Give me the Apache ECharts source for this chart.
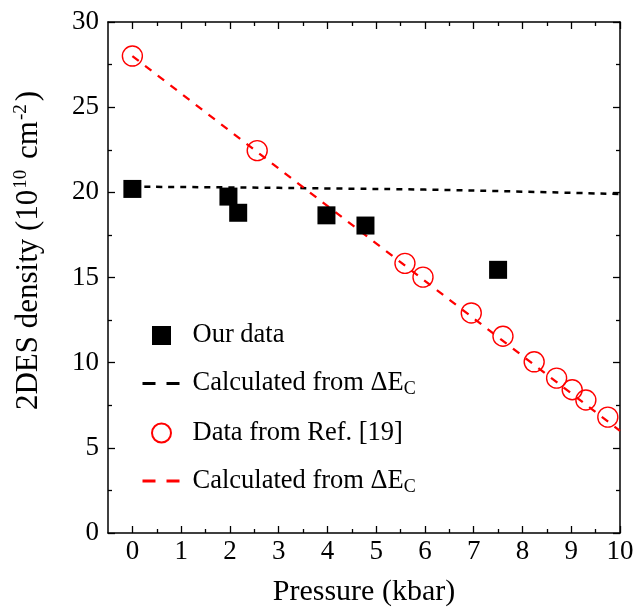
<!DOCTYPE html>
<html><head><meta charset="utf-8">
<script src="https://cdn.jsdelivr.net/npm/echarts@6/dist/echarts.min.js"></script>
<style>html,body{margin:0;padding:0;background:#fff}#c{width:637px;height:612px}</style>
</head><body><div id="c"></div>
<script>
// ---- data ----
const ourX = [0, 1.97, 2.17, 3.98, 4.78, 7.5];
const ourY = [20.2, 19.75, 18.8, 18.65, 18.05, 15.45];
const calcBlackX = [0, 2, 4, 6, 8, 10];
const calcBlackY = [20.33, 20.29, 20.23, 20.16, 20.04, 19.9];
const refX = [0, 2.56, 5.59, 5.96, 6.95, 7.60, 8.24, 8.70, 9.02, 9.30, 9.75];
const refY = [28.0, 22.45, 15.83, 15.02, 12.92, 11.55, 10.05, 9.09, 8.41, 7.81, 6.80];
const calcRedX = [0, 10];
const calcRedY = [28, 6];
const xMajorTicks = [0, 1, 2, 3, 4, 5, 6, 7, 8, 9, 10];
const xMinorTicks = [0.5, 1.5, 2.5, 3.5, 4.5, 5.5, 6.5, 7.5, 8.5, 9.5];
const seriesNames = ['Our data', 'calcBlack', 'Data from Ref. [19]', 'calcRed'];

const pairs = (xs, ys) => xs.map((x, i) => [x, ys[i]]);
const FONT = 'Liberation Serif';
const labelRich = { v: { fontSize: 27, fontFamily: FONT, color: '#000' } };

const xBase = (pos, labels, ticks, len, showLine) => ({
  type: 'value', position: pos, min: -0.5, max: 10,
  axisLine: { show: showLine, onZero: false, lineStyle: { color: '#000', width: 1.5 } },
  axisTick: { show: true, inside: true, length: len, customValues: ticks, lineStyle: { color: '#000', width: 1.3 } },
  axisLabel: labels ? { show: true, customValues: xMajorTicks, fontSize: 27, fontFamily: FONT, color: '#000', margin: 5,
    formatter: v => '{v|' + v + '}', rich: labelRich } : { show: false },
  splitLine: { show: false }
});
const yBase = (pos, labels) => ({
  type: 'value', position: pos, min: 0, max: 30, interval: 5,
  axisLine: { show: true, onZero: false, lineStyle: { color: '#000', width: 1.5 } },
  axisTick: { show: true, inside: true, length: 7, lineStyle: { color: '#000', width: 1.3 } },
  minorTick: { show: true, splitNumber: 2, length: 4, lineStyle: { color: '#000', width: 1.3 } },
  axisLabel: labels ? { show: true, fontSize: 27, fontFamily: FONT, color: '#000', margin: 9,
    formatter: v => '{v|' + v + '}', rich: labelRich } : { show: false },
  splitLine: { show: false }
});

const xAxes = [
  Object.assign(xBase('bottom', true, xMajorTicks, 7, true), {
    name: 'Pressure (kbar)', nameLocation: 'middle', nameGap: 44,
    nameTextStyle: { fontSize: 30, fontFamily: FONT, color: '#000' }
  }),
  xBase('bottom', false, xMinorTicks, 4, false),
  xBase('top', false, xMajorTicks, 7, true),
  xBase('top', false, xMinorTicks, 4, false)
];
const yAxes = [
  Object.assign(yBase('left', true), {
    name: '{t|2DES density (10}{p|10}{t| cm}{p|-2}{t|)}', nameLocation: 'middle', nameGap: 62,
    nameTextStyle: {
      fontFamily: FONT, color: '#000', padding: [0, 0, 0, 54],
      rich: {
        t: { fontSize: 31, fontFamily: FONT, color: '#000', lineHeight: 34 },
        p: { fontSize: 19, fontFamily: FONT, color: '#000', lineHeight: 15, verticalAlign: 'top', padding: [0, 3, 0, 1] }
      }
    }
  }),
  yBase('right', false)
];

const legendText = {
  'Our data': '{t|Our data}',
  'calcBlack': '{t|Calculated from ΔE}{s|C}',
  'Data from Ref. [19]': '{t|Data from Ref. [19]}',
  'calcRed': '{t|Calculated from ΔE}{s|C}'
};
const hidden = { color: 'rgba(0,0,0,0)', borderWidth: 0, opacity: 0 };

const option = {
  animation: false,
  backgroundColor: '#fff',
  textStyle: { fontFamily: FONT, color: '#000' },
  grid: { left: 108, right: 17, top: 22, bottom: 79, containLabel: false },
  xAxis: xAxes,
  yAxis: yAxes,
  legend: {
    orient: 'vertical', left: 141, top: 322, padding: 0,
    itemWidth: 38, itemHeight: 19, itemGap: 21,
    data: [
      { name: seriesNames[0], icon: 'path://M0,0H10V10H0Z' },
      { name: seriesNames[1], itemStyle: hidden, lineStyle: { type: [13, 11], width: 3, color: '#000' } },
      { name: seriesNames[2] },
      { name: seriesNames[3], itemStyle: hidden, lineStyle: { type: [13, 11], width: 3, color: '#ff0000' } }
    ],
    formatter: n => legendText[n],
    textStyle: {
      fontFamily: FONT, color: '#000', padding: [0, 0, 0, 7],
      rich: {
        t: { fontSize: 26.5, fontFamily: FONT, color: '#000', lineHeight: 30 },
        s: { fontSize: 18, fontFamily: FONT, color: '#000', lineHeight: 14, verticalAlign: 'bottom' }
      }
    }
  },
  series: [
    {
      name: seriesNames[0], type: 'scatter', xAxisIndex: 0, yAxisIndex: 0,
      data: pairs(ourX, ourY), symbol: 'rect', symbolSize: 18, z: 3,
      itemStyle: { color: '#000', opacity: 1 }
    },
    {
      name: seriesNames[1], type: 'line', xAxisIndex: 0, yAxisIndex: 0,
      data: pairs(calcBlackX, calcBlackY), symbol: 'none', smooth: true, z: 2,
      lineStyle: { color: '#000', width: 2.5, type: [6, 6] }, itemStyle: { color: 'rgba(0,0,0,0)' }
    },
    {
      name: seriesNames[2], type: 'scatter', xAxisIndex: 0, yAxisIndex: 0,
      data: pairs(refX, refY), symbol: 'circle', symbolSize: 20, z: 4,
      itemStyle: { color: 'rgba(255,255,255,0)', borderColor: '#ff0000', borderWidth: 1.4, opacity: 1 }
    },
    {
      name: seriesNames[3], type: 'line', xAxisIndex: 0, yAxisIndex: 0,
      data: pairs(calcRedX, calcRedY), symbol: 'none', z: 2,
      lineStyle: { color: '#ff0000', width: 2.3, type: [8, 8] }, itemStyle: { color: 'rgba(0,0,0,0)' }
    }
  ]
};
const chart = echarts.init(document.getElementById('c'), null, { renderer: 'canvas' });
chart.setOption(option);
</script>
</body></html>
